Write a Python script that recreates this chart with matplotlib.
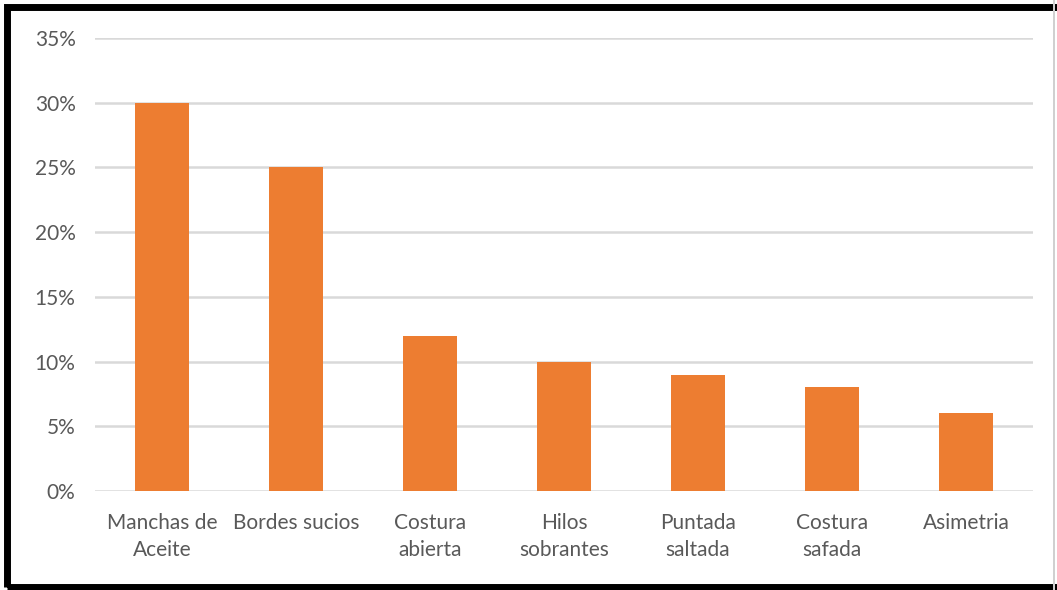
import matplotlib.pyplot as plt
from matplotlib.patches import Rectangle
from matplotlib.ticker import FuncFormatter

# datos
categorias = ["Manchas de\nAceite", "Bordes sucios", "Costura\nabierta", "Hilos\nsobrantes",
              "Puntada\nsaltada", "Costura\nsafada", "Asimetria"]
porcentajes = [30, 25, 12, 10, 9, 8, 6]
y_ticks = [0, 5, 10, 15, 20, 25, 30, 35]

plt.rcParams["font.family"] = ["Lato", "DejaVu Sans"]

fig = plt.figure(figsize=(10.57, 5.90), dpi=100)
ax = fig.add_axes([95 / 1057, 1 - 491 / 590, (1033 - 95) / 1057, (491 - 38) / 590])

ax.bar(range(len(categorias)), porcentajes, width=0.4, color="#ED7D31", zorder=3)

ax.set_xlim(-0.5, len(categorias) - 0.5)
ax.set_ylim(0, 35)
ax.set_yticks(y_ticks)
ax.yaxis.set_major_formatter(FuncFormatter(lambda v, _: f"{v:.0f}%"))
ax.set_xticks(range(len(categorias)))
ax.set_xticklabels(categorias, linespacing=1.45)

ax.grid(axis="y", color="#D9D9D9", linewidth=1.8, zorder=0)
for s in ax.spines.values():
    s.set_visible(False)
ax.tick_params(axis="both", length=0, labelsize=15, colors="#595959")
ax.tick_params(axis="y", pad=14)
ax.tick_params(axis="x", pad=16)

# marco negro
fig.patches.append(Rectangle((7 / 1057, 3 / 590), 1.1, 1 - 10 / 590, transform=fig.transFigure,
                             fill=False, edgecolor="black", linewidth=5, zorder=10))
fig.patches.append(Rectangle((1053 / 1057, 0), 2 / 1057, 1, transform=fig.transFigure,
                             facecolor="#D0D0D0", edgecolor="none", zorder=11))

fig.savefig("out.png", dpi=100)
